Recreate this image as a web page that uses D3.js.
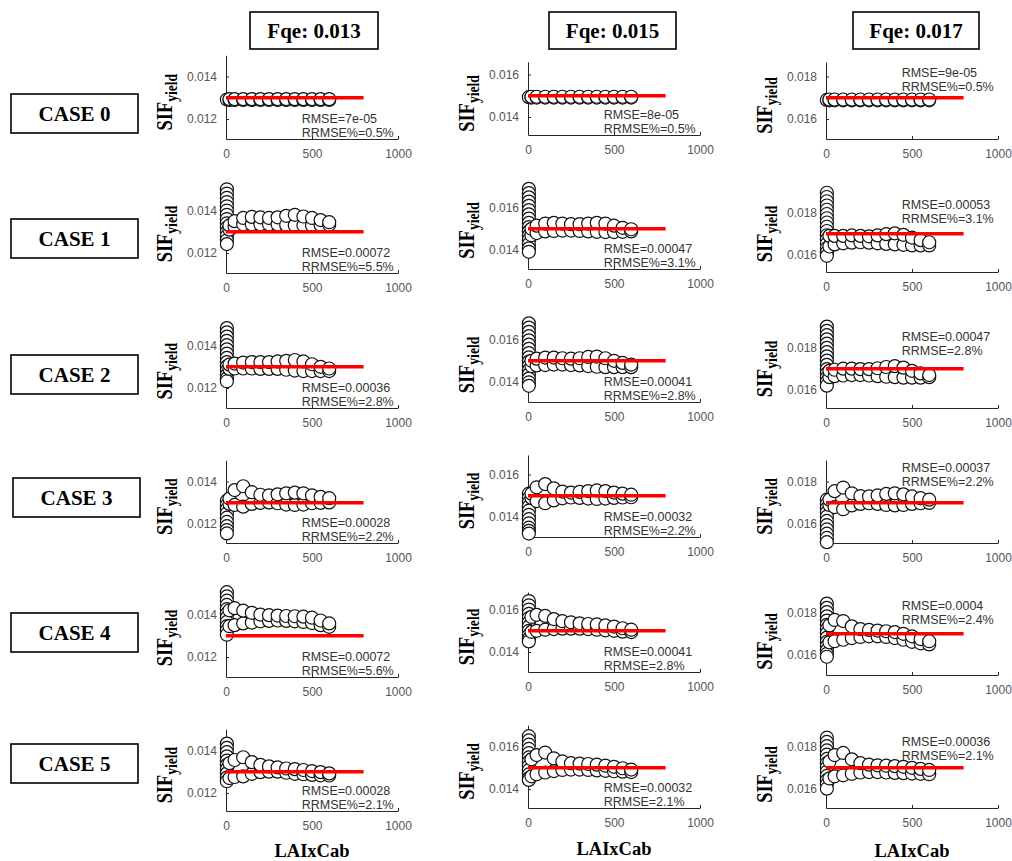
<!DOCTYPE html>
<html>
<head>
<meta charset="utf-8">
<script src="https://cdn.jsdelivr.net/npm/d3@7"></script>
<style>
  body { margin: 0; background: #fff; }
  svg { display: block; }
</style>
</head>
<body>
<script>
// ---- Data -------------------------------------------------------------
const fqeLevels = [0.013, 0.015, 0.017];
const fqeLabels = ["Fqe: 0.013", "Fqe: 0.015", "Fqe: 0.017"];
const caseLabels = ["CASE 0", "CASE 1", "CASE 2", "CASE 3", "CASE 4", "CASE 5"];
const xTicks = [0, 500, 1000];
const yTickSets = [[0.012, 0.014], [0.014, 0.016], [0.016, 0.018]];
const refLineEnd = 800;           // LAIxCab extent of the Fqe reference line

// LAIxCab positions of the simulated cloud (spike sits at the origin)
const spikeX = 5;
const bandX = [20, 50, 100, 150, 200, 250, 300, 350, 400, 450, 500, 550, 600];

// y-axis limits per panel [min, max]
const yLim013 = [[0.01106, 0.01500], [0.01106, 0.01520], [0.01106, 0.01500], [0.01111, 0.01500], [0.01106, 0.01520], [0.01115, 0.01500]];
const yLim015 = [[0.01315, 0.01659], [0.01311, 0.01721], [0.01306, 0.01701], [0.01306, 0.01692], [0.01306, 0.01682], [0.01311, 0.01701]];
const yLim017 = [[0.01506, 0.01868], [0.01520, 0.01925], [0.01515, 0.01929], [0.01511, 0.01901], [0.01506, 0.01868], [0.01511, 0.01873]];

// SIF yield at LAIxCab ~ 0 (vertical spike)
const spike013 = [
  [0.01292],
  [0.01500, 0.01480, 0.01460, 0.01440, 0.01420, 0.01400, 0.01380, 0.01360, 0.01340, 0.01320, 0.01300, 0.01280, 0.01260, 0.01242],
  [0.01482, 0.01462, 0.01442, 0.01422, 0.01402, 0.01382, 0.01362, 0.01342, 0.01322, 0.01302, 0.01282, 0.01262, 0.01245, 0.01232],
  [0.01310, 0.01290, 0.01270, 0.01250, 0.01230, 0.01210, 0.01190, 0.01172, 0.01156],
  [0.01505, 0.01485, 0.01465, 0.01445, 0.01425, 0.01405, 0.01385, 0.01365, 0.01345, 0.01325, 0.01305],
  [0.01432, 0.01412, 0.01392, 0.01372, 0.01352, 0.01332, 0.01312, 0.01292, 0.01272, 0.01255]
];
const spike015 = [
  [0.01493],
  [0.01688, 0.01668, 0.01648, 0.01628, 0.01608, 0.01588, 0.01568, 0.01548, 0.01528, 0.01508, 0.01488, 0.01468, 0.01448, 0.01428, 0.01408, 0.01392],
  [0.01676, 0.01656, 0.01636, 0.01616, 0.01596, 0.01576, 0.01556, 0.01536, 0.01516, 0.01496, 0.01476, 0.01456, 0.01436, 0.01416, 0.01398, 0.01382],
  [0.01510, 0.01490, 0.01470, 0.01450, 0.01430, 0.01410, 0.01390, 0.01370, 0.01350, 0.01335, 0.01322],
  [0.01640, 0.01620, 0.01600, 0.01580, 0.01560, 0.01540, 0.01520, 0.01500, 0.01480, 0.01462, 0.01450],
  [0.01649, 0.01629, 0.01609, 0.01589, 0.01569, 0.01549, 0.01529, 0.01509, 0.01489, 0.01469, 0.01452, 0.01443]
];
const spike017 = [
  [0.01690],
  [0.01893, 0.01873, 0.01853, 0.01833, 0.01813, 0.01793, 0.01773, 0.01753, 0.01733, 0.01713, 0.01693, 0.01673, 0.01653, 0.01633, 0.01613, 0.01596],
  [0.01898, 0.01878, 0.01858, 0.01838, 0.01818, 0.01798, 0.01778, 0.01758, 0.01738, 0.01718, 0.01698, 0.01678, 0.01658, 0.01638, 0.01620],
  [0.01715, 0.01695, 0.01675, 0.01655, 0.01635, 0.01615, 0.01595, 0.01575, 0.01555, 0.01535, 0.01515],
  [0.01842, 0.01822, 0.01802, 0.01782, 0.01762, 0.01742, 0.01722, 0.01702, 0.01682, 0.01662, 0.01642, 0.01622, 0.01605, 0.01592],
  [0.01842, 0.01822, 0.01802, 0.01782, 0.01762, 0.01742, 0.01722, 0.01702, 0.01682, 0.01662, 0.01642, 0.01622, 0.01602]
];

// Upper and lower edge of the SIF yield band along bandX
const upper013 = [
  [0.01294, 0.01294, 0.01294, 0.01294, 0.01294, 0.01294, 0.01294, 0.01294, 0.01294, 0.01294, 0.01294, 0.01294, 0.01294],
  [0.01330, 0.01350, 0.01365, 0.01370, 0.01368, 0.01365, 0.01368, 0.01375, 0.01380, 0.01372, 0.01365, 0.01355, 0.01345],
  [0.01310, 0.01315, 0.01320, 0.01322, 0.01322, 0.01322, 0.01325, 0.01328, 0.01332, 0.01325, 0.01312, 0.01300, 0.01292],
  [0.01320, 0.01360, 0.01378, 0.01350, 0.01338, 0.01335, 0.01340, 0.01345, 0.01348, 0.01345, 0.01335, 0.01328, 0.01322],
  [0.01420, 0.01430, 0.01418, 0.01408, 0.01400, 0.01397, 0.01395, 0.01393, 0.01392, 0.01390, 0.01385, 0.01372, 0.01358],
  [0.01340, 0.01355, 0.01368, 0.01345, 0.01332, 0.01325, 0.01320, 0.01315, 0.01312, 0.01308, 0.01303, 0.01298, 0.01292]
];
const lower013 = [
  [0.01290, 0.01290, 0.01290, 0.01290, 0.01290, 0.01290, 0.01290, 0.01290, 0.01290, 0.01290, 0.01290, 0.01290, 0.01290],
  [0.01310, 0.01325, 0.01335, 0.01335, 0.01335, 0.01335, 0.01335, 0.01332, 0.01330, 0.01330, 0.01330, 0.01332, 0.01333],
  [0.01290, 0.01292, 0.01292, 0.01292, 0.01290, 0.01290, 0.01290, 0.01286, 0.01282, 0.01280, 0.01280, 0.01280, 0.01280],
  [0.01295, 0.01290, 0.01282, 0.01295, 0.01300, 0.01302, 0.01298, 0.01292, 0.01290, 0.01292, 0.01298, 0.01300, 0.01302],
  [0.01345, 0.01350, 0.01358, 0.01362, 0.01368, 0.01370, 0.01372, 0.01370, 0.01368, 0.01365, 0.01360, 0.01350, 0.01342],
  [0.01270, 0.01275, 0.01278, 0.01290, 0.01298, 0.01300, 0.01300, 0.01295, 0.01290, 0.01288, 0.01285, 0.01283, 0.01282]
];
const upper015 = [
  [0.01495, 0.01495, 0.01495, 0.01495, 0.01495, 0.01495, 0.01495, 0.01495, 0.01495, 0.01495, 0.01495, 0.01495, 0.01495],
  [0.01500, 0.01515, 0.01525, 0.01528, 0.01525, 0.01522, 0.01522, 0.01525, 0.01528, 0.01525, 0.01515, 0.01505, 0.01498],
  [0.01500, 0.01510, 0.01515, 0.01515, 0.01512, 0.01510, 0.01512, 0.01518, 0.01520, 0.01512, 0.01500, 0.01490, 0.01482],
  [0.01510, 0.01540, 0.01555, 0.01535, 0.01520, 0.01515, 0.01518, 0.01522, 0.01525, 0.01522, 0.01515, 0.01510, 0.01505],
  [0.01565, 0.01575, 0.01570, 0.01555, 0.01545, 0.01540, 0.01535, 0.01532, 0.01530, 0.01525, 0.01520, 0.01512, 0.01505],
  [0.01540, 0.01560, 0.01572, 0.01545, 0.01530, 0.01522, 0.01520, 0.01518, 0.01515, 0.01510, 0.01505, 0.01498, 0.01492]
];
const lower015 = [
  [0.01491, 0.01491, 0.01491, 0.01491, 0.01491, 0.01491, 0.01491, 0.01491, 0.01491, 0.01491, 0.01491, 0.01491, 0.01491],
  [0.01470, 0.01480, 0.01488, 0.01490, 0.01492, 0.01492, 0.01490, 0.01488, 0.01486, 0.01485, 0.01485, 0.01486, 0.01488],
  [0.01475, 0.01478, 0.01480, 0.01482, 0.01482, 0.01480, 0.01478, 0.01475, 0.01472, 0.01470, 0.01470, 0.01470, 0.01470],
  [0.01490, 0.01475, 0.01465, 0.01478, 0.01488, 0.01492, 0.01490, 0.01487, 0.01485, 0.01487, 0.01490, 0.01492, 0.01493],
  [0.01495, 0.01500, 0.01505, 0.01508, 0.01510, 0.01510, 0.01510, 0.01508, 0.01505, 0.01502, 0.01500, 0.01496, 0.01494],
  [0.01460, 0.01470, 0.01478, 0.01485, 0.01490, 0.01492, 0.01492, 0.01490, 0.01488, 0.01486, 0.01484, 0.01482, 0.01480]
];
const upper017 = [
  [0.01692, 0.01692, 0.01692, 0.01692, 0.01692, 0.01692, 0.01692, 0.01692, 0.01692, 0.01692, 0.01692, 0.01692, 0.01692],
  [0.01690, 0.01690, 0.01690, 0.01692, 0.01690, 0.01688, 0.01692, 0.01698, 0.01702, 0.01695, 0.01682, 0.01670, 0.01660],
  [0.01690, 0.01695, 0.01700, 0.01700, 0.01698, 0.01698, 0.01702, 0.01708, 0.01712, 0.01705, 0.01690, 0.01678, 0.01670],
  [0.01715, 0.01755, 0.01772, 0.01745, 0.01732, 0.01730, 0.01735, 0.01742, 0.01745, 0.01740, 0.01730, 0.01722, 0.01715],
  [0.01740, 0.01765, 0.01760, 0.01735, 0.01722, 0.01718, 0.01715, 0.01712, 0.01708, 0.01700, 0.01688, 0.01675, 0.01665],
  [0.01730, 0.01760, 0.01770, 0.01740, 0.01722, 0.01715, 0.01712, 0.01710, 0.01708, 0.01705, 0.01700, 0.01695, 0.01690]
];
const lower017 = [
  [0.01688, 0.01688, 0.01688, 0.01688, 0.01688, 0.01688, 0.01688, 0.01688, 0.01688, 0.01688, 0.01688, 0.01688, 0.01688],
  [0.01640, 0.01650, 0.01655, 0.01658, 0.01660, 0.01658, 0.01655, 0.01652, 0.01650, 0.01648, 0.01645, 0.01645, 0.01645],
  [0.01660, 0.01665, 0.01668, 0.01670, 0.01670, 0.01668, 0.01665, 0.01662, 0.01660, 0.01658, 0.01658, 0.01658, 0.01660],
  [0.01690, 0.01680, 0.01670, 0.01688, 0.01695, 0.01698, 0.01695, 0.01690, 0.01688, 0.01690, 0.01695, 0.01698, 0.01700],
  [0.01660, 0.01665, 0.01672, 0.01680, 0.01685, 0.01688, 0.01688, 0.01685, 0.01680, 0.01672, 0.01662, 0.01655, 0.01650],
  [0.01650, 0.01660, 0.01665, 0.01672, 0.01678, 0.01680, 0.01680, 0.01678, 0.01676, 0.01675, 0.01673, 0.01672, 0.01670]
];

// Error statistics printed in each panel
const rmse013 = ["RMSE=7e-05", "RMSE=0.00072", "RMSE=0.00036", "RMSE=0.00028", "RMSE=0.00072", "RMSE=0.00028"];
const rrmse013 = ["RRMSE%=0.5%", "RRMSE%=5.5%", "RRMSE%=2.8%", "RRMSE%=2.2%", "RRMSE%=5.6%", "RRMSE%=2.1%"];
const rmse015 = ["RMSE=8e-05", "RMSE=0.00047", "RMSE=0.00041", "RMSE=0.00032", "RMSE=0.00041", "RMSE=0.00032"];
const rrmse015 = ["RRMSE%=0.5%", "RRMSE%=3.1%", "RRMSE%=2.8%", "RRMSE%=2.2%", "RRMSE=2.8%", "RRMSE=2.1%"];
const rmse017 = ["RMSE=9e-05", "RMSE=0.00053", "RMSE=0.00047", "RMSE=0.00037", "RMSE=0.0004", "RMSE=0.00036"];
const rrmse017 = ["RRMSE%=0.5%", "RRMSE%=3.1%", "RRMSE=2.8%", "RRMSE%=2.2%", "RRMSE%=2.4%", "RRMSE%=2.1%"];

const columns = [
  { fqe: fqeLevels[0], title: fqeLabels[0], yTicks: yTickSets[0], yLim: yLim013, spike: spike013, upper: upper013, lower: lower013, rmse: rmse013, rrmse: rrmse013 },
  { fqe: fqeLevels[1], title: fqeLabels[1], yTicks: yTickSets[1], yLim: yLim015, spike: spike015, upper: upper015, lower: lower015, rmse: rmse015, rrmse: rrmse015 },
  { fqe: fqeLevels[2], title: fqeLabels[2], yTicks: yTickSets[2], yLim: yLim017, spike: spike017, upper: upper017, lower: lower017, rmse: rmse017, rrmse: rrmse017 }
];

// ---- Layout -----------------------------------------------------------
const W = 1012, H = 861;
const colX = [226, 528, 826];               // x of each column's y axis
const axisY = [                              // y of each panel's x axis
  [139, 273, 408, 543, 677, 811],
  [135, 269, 402, 537, 672, 808],
  [139, 272, 408, 543, 675, 808]
];
const plotW = 172;                           // px spanned by LAIxCab 0..1000
const pxPerUnit = 21250;                     // px per unit of SIF yield
const headerBox = [{ x: 250, w: 128 }, { x: 549, w: 127 }, { x: 853, w: 126 }];
const caseBox = [{ x: 11, y: 94 }, { x: 11, y: 219 }, { x: 11, y: 355 }, { x: 13, y: 478 }, { x: 11, y: 613 }, { x: 11, y: 744 }];
const xTitleY = [857, 855, 857];
const noteTopCol3 = [-62, -63, -67, -71, -65, -62];

const sansFont = "'Liberation Sans', Arial, Helvetica, sans-serif";
const serifFont = "'Liberation Serif', 'Times New Roman', Times, serif";

const svg = d3.select("body").append("svg")
  .attr("width", W).attr("height", H)
  .attr("viewBox", `0 0 ${W} ${H}`);

svg.append("rect").attr("width", W).attr("height", H).attr("fill", "#fff");

// Column headers
columns.forEach((col, c) => {
  const g = svg.append("g");
  g.append("rect")
    .attr("x", headerBox[c].x).attr("y", 12)
    .attr("width", headerBox[c].w).attr("height", 37)
    .attr("fill", "none").attr("stroke", "#000").attr("stroke-width", 1.6);
  g.append("text")
    .attr("x", headerBox[c].x + headerBox[c].w / 2).attr("y", 38)
    .attr("text-anchor", "middle")
    .attr("font-family", serifFont).attr("font-weight", "bold").attr("font-size", 21)
    .attr("fill", "#000")
    .text(col.title);
});

// Row labels
caseLabels.forEach((lab, r) => {
  const g = svg.append("g");
  g.append("rect")
    .attr("x", caseBox[r].x).attr("y", caseBox[r].y)
    .attr("width", 127).attr("height", 39)
    .attr("fill", "none").attr("stroke", "#000").attr("stroke-width", 1.6);
  g.append("text")
    .attr("x", caseBox[r].x + 63.5).attr("y", caseBox[r].y + 27)
    .attr("text-anchor", "middle")
    .attr("font-family", serifFont).attr("font-weight", "bold").attr("font-size", 21)
    .attr("fill", "#000")
    .text(lab);
});

// Panels
columns.forEach((col, c) => {
  caseLabels.forEach((_, r) => {
    const [lo, hi] = col.yLim[r];
    const y0 = axisY[c][r];
    const x = d3.scaleLinear().domain([0, 1000]).range([colX[c], colX[c] + plotW]);
    const y = d3.scaleLinear().domain([lo, hi]).range([y0, y0 - (hi - lo) * pxPerUnit]);

    const g = svg.append("g");

    // axes (MATLAB style: inward ticks, no box)
    const xAxis = g.append("g").attr("transform", `translate(0,${y0})`)
      .call(d3.axisBottom(x).tickValues(xTicks).tickFormat(d3.format("d"))
        .tickSizeInner(-3).tickSizeOuter(0).tickPadding(10));
    const yAxis = g.append("g").attr("transform", `translate(${colX[c]},0)`)
      .call(d3.axisLeft(y).tickValues(col.yTicks).tickFormat(d3.format(".3f"))
        .tickSizeInner(-3).tickSizeOuter(0).tickPadding(9));
    [xAxis, yAxis].forEach(a => {
      a.select(".domain").attr("stroke", "#262626").attr("stroke-width", 1);
      a.selectAll(".tick line").attr("stroke", "#262626");
      a.selectAll(".tick text")
        .attr("fill", "#555").attr("font-size", 12).attr("font-family", sansFont);
    });

    // simulated points: spike at the origin, then the band
    const pts = col.spike[r].map(v => ({ x: spikeX, y: v }));
    bandX.forEach((bx, i) => {
      pts.push({ x: bx, y: col.lower[r][i] });
      pts.push({ x: bx, y: col.upper[r][i] });
    });
    g.append("g").selectAll("circle").data(pts).join("circle")
      .attr("cx", d => x(d.x)).attr("cy", d => y(d.y)).attr("r", 6.5)
      .attr("fill", "#fff").attr("stroke", "#111").attr("stroke-width", 1.2);

    // constant Fqe reference
    g.append("line")
      .attr("x1", x(0)).attr("x2", x(refLineEnd))
      .attr("y1", y(col.fqe)).attr("y2", y(col.fqe))
      .attr("stroke", "#ff0000").attr("stroke-width", 3.5);

    // statistics
    const noteTop = c === 2 ? noteTopCol3[r] : -16;
    const notes = g.append("g")
      .attr("font-family", sansFont).attr("font-size", 12.5).attr("fill", "#333");
    notes.append("text").attr("x", x(440)).attr("y", y0 + noteTop).text(col.rmse[r]);
    notes.append("text").attr("x", x(440)).attr("y", y0 + noteTop + 13.5).text(col.rrmse[r]);

    // y-axis title
    const cy = (y0 + y.range()[1]) / 2 + 5;
    const lab = g.append("text")
      .attr("transform", `translate(${colX[c] - 54},${cy}) rotate(-90) scale(0.8,1)`)
      .attr("text-anchor", "middle")
      .attr("font-family", serifFont).attr("font-weight", "bold").attr("fill", "#000");
    lab.append("tspan").attr("font-size", 23).text("SIF");
    lab.append("tspan").attr("font-size", 17).attr("dy", 5).text("yield");
  });

  // x-axis title under each column
  svg.append("text")
    .attr("x", colX[c] + 86).attr("y", xTitleY[c])
    .attr("text-anchor", "middle")
    .attr("font-family", serifFont).attr("font-weight", "bold").attr("font-size", 18.5)
    .attr("fill", "#000")
    .text("LAIxCab");
});
</script>
</body>
</html>
